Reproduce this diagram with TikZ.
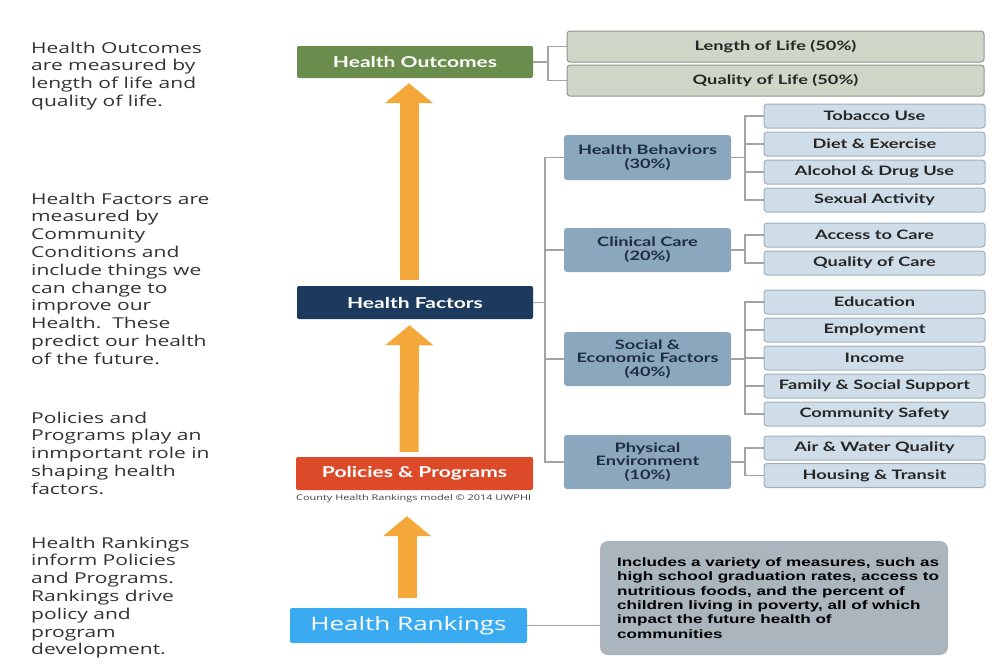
\documentclass[tikz,border=0pt]{standalone}
\usepackage{fontspec}
\setmainfont{Open Sans}[FakeStretch=1.4]
\newfontfamily\latofont{Lato}[FakeStretch=1.4]
\newfontfamily\arialfont{Liberation Sans}[FakeStretch=1.4]
\usetikzlibrary{arrows.meta,calc}
\definecolor{hogreen}{HTML}{6A8C4C}
\definecolor{hfnavy}{HTML}{1C3A5E}
\definecolor{ppred}{HTML}{DD4A29}
\definecolor{hrblue}{HTML}{3AABF0}
\definecolor{arrorange}{HTML}{F5A83A}
\definecolor{outfill}{HTML}{CED6C8}
\definecolor{outdraw}{HTML}{8E978A}
\definecolor{catfill}{HTML}{8BA7BD}
\definecolor{cattext}{HTML}{1E2E40}
\definecolor{subfill}{HTML}{CEDDE8}
\definecolor{subdraw}{HTML}{9FB0BD}
\definecolor{descfill}{HTML}{AAB5BD}
\definecolor{conncol}{HTML}{A3A3A3}
\definecolor{lefttext}{HTML}{333333}
\begin{document}
\begin{tikzpicture}[x=1pt,y=-1pt,
  mainbox/.style={rounded corners=2pt, text=white, inner sep=0pt,
    font=\latofont\bfseries\fontsize{15}{18}\selectfont},
  outbox/.style={rounded corners=3pt, fill=outfill, draw=outdraw, line width=1pt,
    minimum width=417pt, minimum height=31pt, inner sep=0pt, text=black!85,
    font=\latofont\bfseries\fontsize{13}{15}\selectfont},
  catbox/.style={rounded corners=3pt, fill=catfill, minimum width=167pt, inner sep=0pt,
    text=cattext, align=center, font=\latofont\bfseries\fontsize{13}{13.8}\selectfont},
  subbox/.style={rounded corners=3pt, fill=subfill, draw=subdraw, line width=1pt,
    minimum width=221pt, minimum height=24pt, inner sep=0pt, text=black!85,
    font=\latofont\bfseries\fontsize{13}{15}\selectfont},
  lefttxt/.style={anchor=north west, inner sep=0pt, align=left, text=lefttext,
    font=\fontsize{15}{17.8}\selectfont},
  conn/.style={draw=conncol, line width=1.5pt},
  uparrow/.style={draw=arrorange, line width=19pt,
    -{Triangle[width=47pt,length=20pt]}, arrorange}
]
\useasboundingbox[fill=white] (0,0) rectangle (1000,667);

% left texts
\node[lefttxt] (t1) at (31,41.5) {Health Outcomes\\are measured by\\length of life and\\quality of life.};
\node[lefttxt] (t2) at (31,192.5) {Health Factors are\\measured by\\Community\\Conditions and\\include things we\\can change to\\improve our\\Health.\ \ These\\predict our health\\of the future.};
\node[lefttxt] (t3) at (31,411.5) {Policies and\\Programs play an\\inmportant role in\\shaping health\\factors.};
\node[lefttxt] (t4) at (31,536.5) {Health Rankings\\inform Policies\\and Programs.\\Rankings drive\\policy and\\program\\development.};

% main boxes
\node[mainbox, fill=hogreen, minimum width=236pt, minimum height=32pt] (ho) at (415,62) {Health Outcomes};
\node[mainbox, fill=hfnavy, minimum width=236pt, minimum height=33pt] (hf) at (415,302.5) {Health Factors};
\node[mainbox, fill=ppred, minimum width=237pt, minimum height=33pt] (pp) at (414.5,473.5) {Policies \& Programs};
\node[anchor=west, inner sep=0pt, text=black!75, font=\fontsize{7.8}{9}\selectfont] (cap) at (296,498) {County Health Rankings model © 2014 UWPHI};
\node[rounded corners=2pt, fill=hrblue, text=white, inner sep=0pt, minimum width=237pt, minimum height=35pt,
  font=\fontsize{18.6}{21}\selectfont] (hr) at (408.5,625.5) {Health Rankings};

% description
\node[rounded corners=8pt, fill=descfill, minimum width=348pt, minimum height=114pt, inner sep=0pt] (desc) at (774,598) {};
\node[anchor=west, inner sep=0pt, align=left, text=black, font=\arialfont\bfseries\fontsize{12.2}{14.4}\selectfont] (desctxt) at (617,598)
  {Includes a variety of measures, such as\\high school graduation rates, access to\\nutritious foods, and the percent of\\children living in poverty, all of which\\impact the future health of\\communities};
\draw[conn, line width=1pt] (hr.east) -- (hr.east -| desc.west);

% arrows
\draw[uparrow] ([xshift=-6pt,yshift=6pt]hf.north) -- ([xshift=-6pt,yshift=-5pt]ho.south);
\draw[uparrow] ([xshift=-5.5pt,yshift=5pt]pp.north) -- ([xshift=-5.5pt,yshift=-6pt]hf.south);
\draw[uparrow] ([xshift=-1.5pt,yshift=10pt]hr.north) -- ([xshift=-7.5pt,yshift=-26pt]pp.south);

% outcomes
\node[outbox] (lol) at (775.5,46.5) {Length of Life (50\%)};
\node[outbox] (qol) at (775.5,80.5) {Quality of Life (50\%)};
\coordinate (hoj) at (548,62);
\draw[conn] (ho.east) -- (hoj);
\draw[conn] (lol.west) -| (hoj) |- (qol.west);

% categories
\node[catbox, minimum height=45pt] (hb) at (647.5,157.5) {Health Behaviors\\(30\%)};
\node[catbox, minimum height=44pt] (cc) at (647.5,250) {Clinical Care\\(20\%)};
\node[catbox, minimum height=54pt] (se) at (647.5,359) {Social \&\\Economic Factors\\(40\%)};
\node[catbox, minimum height=54pt] (pe) at (647.5,462) {Physical\\Environment\\(10\%)};
\coordinate (hfj) at (545,302.5);
\draw[conn] (hf.east) -- (hfj);
\draw[conn] (hb.west) -| (hfj) |- (pe.west);
\draw[conn] (cc.west) -- (cc.west -| hfj);
\draw[conn] (se.west) -- (se.west -| hfj);

% sub boxes
\node[subbox] (tob) at (874.5,116) {Tobacco Use};
\node[subbox] (diet) at (874.5,144) {Diet \& Exercise};
\node[subbox] (alc) at (874.5,172) {Alcohol \& Drug Use};
\node[subbox] (sex) at (874.5,200) {Sexual Activity};
\node[subbox] (acc) at (874.5,235) {Access to Care};
\node[subbox] (qoc) at (874.5,263) {Quality of Care};
\node[subbox] (edu) at (874.5,302) {Education};
\node[subbox] (emp) at (874.5,330) {Employment};
\node[subbox] (inc) at (874.5,358) {Income};
\node[subbox] (fam) at (874.5,386) {Family \& Social Support};
\node[subbox] (com) at (874.5,414) {Community Safety};
\node[subbox] (air) at (874.5,448) {Air \& Water Quality};
\node[subbox] (hou) at (874.5,475.5) {Housing \& Transit};

\coordinate (hbj) at (745,157.5);
\draw[conn] (hb.east) -- (hbj);
\draw[conn] (tob.west) -| (hbj) |- (sex.west);
\draw[conn] (diet.west) -- (diet.west -| hbj);
\draw[conn] (alc.west) -- (alc.west -| hbj);

\coordinate (ccj) at (745,250);
\draw[conn] (cc.east) -- (ccj);
\draw[conn] (acc.west) -| (ccj) |- (qoc.west);

\coordinate (sej) at (745,359);
\draw[conn] (se.east) -- (sej);
\draw[conn] (edu.west) -| (sej) |- (com.west);
\draw[conn] (emp.west) -- (emp.west -| sej);
\draw[conn] (inc.west) -- (inc.west -| sej);
\draw[conn] (fam.west) -- (fam.west -| sej);

\coordinate (pej) at (745,462);
\draw[conn] (pe.east) -- (pej);
\draw[conn] (air.west) -| (pej) |- (hou.west);
\end{tikzpicture}
\end{document}
